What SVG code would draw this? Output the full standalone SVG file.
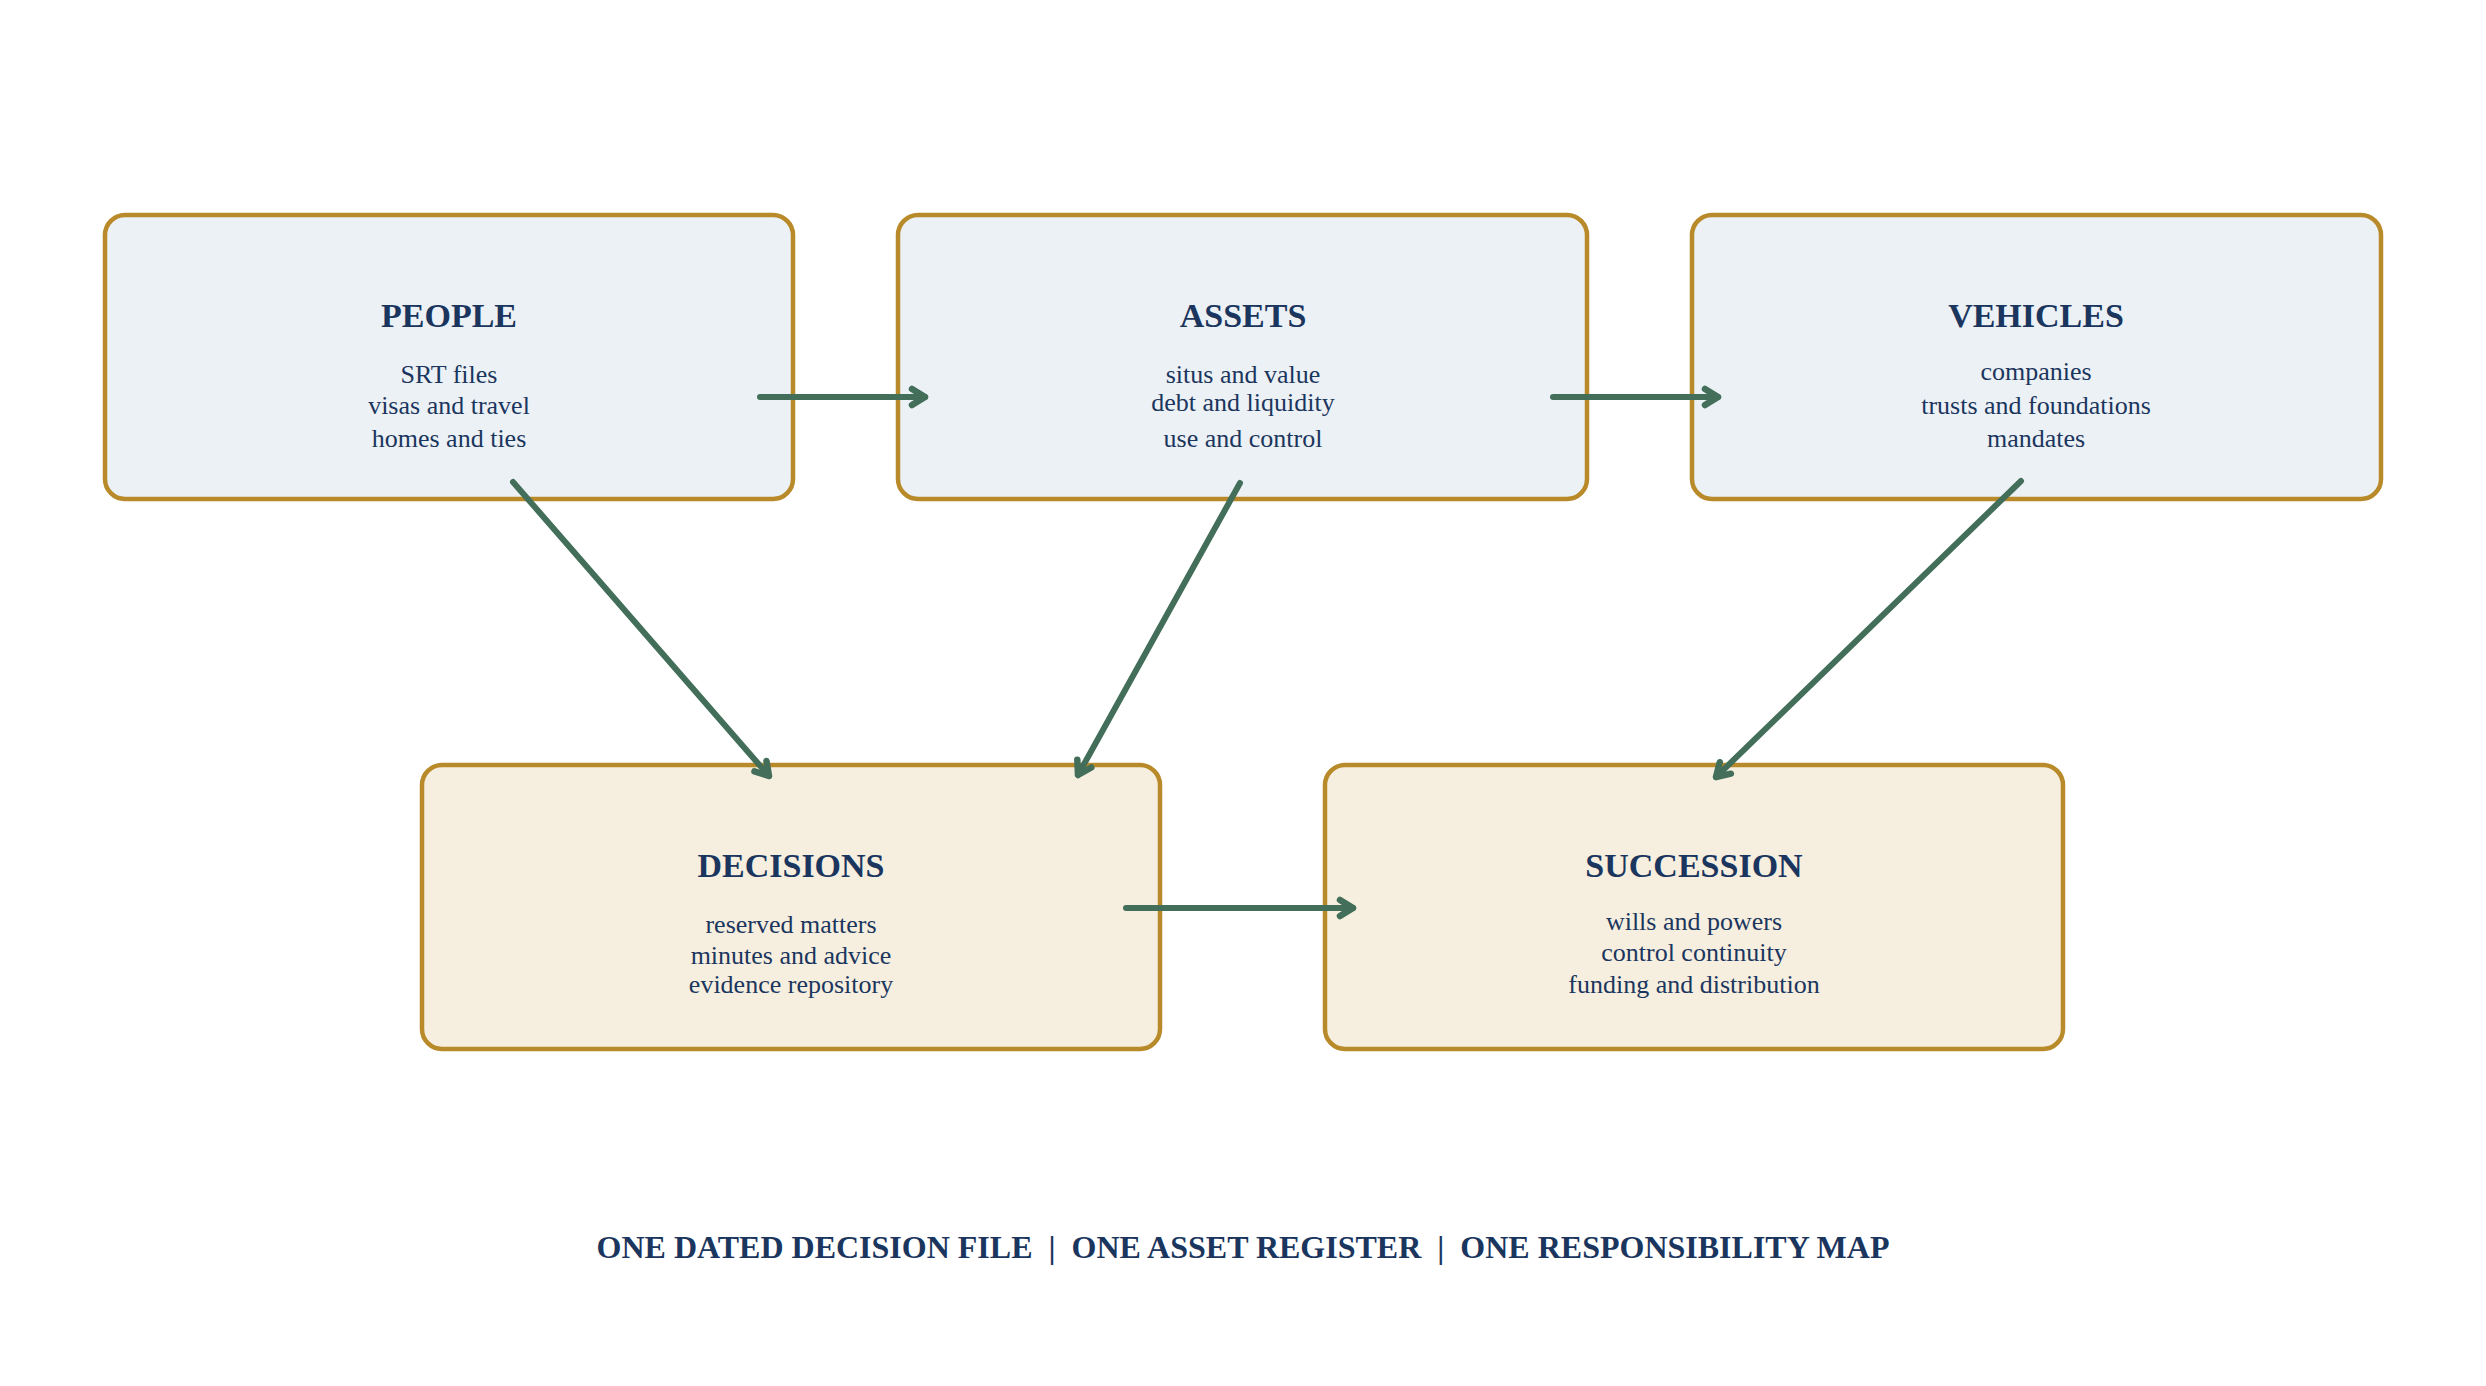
<svg xmlns="http://www.w3.org/2000/svg" width="2486" height="1386" viewBox="0 0 2486 1386">
<defs>
<style>
.box{stroke:#B98A2A;stroke-width:4.5;}
.top{fill:#ECF1F5;}
.bot{fill:#F6EFDF;}
.title{font-family:"Liberation Serif","Times New Roman",serif;font-weight:bold;font-size:34px;fill:#1B365E;text-anchor:middle;}
.body{font-family:"Liberation Serif","Times New Roman",serif;font-size:26px;fill:#1B365E;text-anchor:middle;}
.foot{font-family:"Liberation Serif","Times New Roman",serif;font-weight:bold;font-size:32px;fill:#1B365E;text-anchor:middle;white-space:pre;}
.conn{stroke:#436E5A;stroke-width:6;stroke-linecap:round;fill:none;}
</style>
<marker id="arr" markerUnits="userSpaceOnUse" markerWidth="40" markerHeight="40" viewBox="-20 -20 40 40" refX="0" refY="0" orient="auto">
<path d="M-13,-8 L0,0 L-13,8" fill="none" stroke="#436E5A" stroke-width="6.5" stroke-linecap="round" stroke-linejoin="round"/>
</marker>
</defs>
<rect width="2486" height="1386" fill="#FFFFFF"/>
<g id="people">
<rect class="box top" x="105" y="215" width="688" height="284" rx="20"/>
<text class="title" x="449" y="327">PEOPLE</text>
<text class="body" x="449" y="383">SRT files</text>
<text class="body" x="449" y="414">visas and travel</text>
<text class="body" x="449" y="447">homes and ties</text>
</g>
<g id="assets">
<rect class="box top" x="898" y="215" width="689" height="284" rx="20"/>
<text class="title" x="1243" y="327">ASSETS</text>
<text class="body" x="1243" y="383">situs and value</text>
<text class="body" x="1243" y="411">debt and liquidity</text>
<text class="body" x="1243" y="447">use and control</text>
</g>
<g id="vehicles">
<rect class="box top" x="1692" y="215" width="689" height="284" rx="20"/>
<text class="title" x="2036" y="327">VEHICLES</text>
<text class="body" x="2036" y="380">companies</text>
<text class="body" x="2036" y="414">trusts and foundations</text>
<text class="body" x="2036" y="447">mandates</text>
</g>
<g id="decisions">
<rect class="box bot" x="422" y="765" width="738" height="284" rx="20"/>
<text class="title" x="791" y="877">DECISIONS</text>
<text class="body" x="791" y="933">reserved matters</text>
<text class="body" x="791" y="964">minutes and advice</text>
<text class="body" x="791" y="993">evidence repository</text>
</g>
<g id="succession">
<rect class="box bot" x="1325" y="765" width="738" height="284" rx="20"/>
<text class="title" x="1694" y="877">SUCCESSION</text>
<text class="body" x="1694" y="930">wills and powers</text>
<text class="body" x="1694" y="961">control continuity</text>
<text class="body" x="1694" y="993">funding and distribution</text>
</g>
<g id="connectors">
<line class="conn" x1="760" y1="397" x2="925" y2="397" marker-end="url(#arr)"/>
<line class="conn" x1="1553" y1="397" x2="1718" y2="397" marker-end="url(#arr)"/>
<line class="conn" x1="513" y1="482" x2="769" y2="776" marker-end="url(#arr)"/>
<line class="conn" x1="1240" y1="483" x2="1078" y2="775" marker-end="url(#arr)"/>
<line class="conn" x1="2021" y1="481" x2="1716" y2="777" marker-end="url(#arr)"/>
<line class="conn" x1="1126" y1="908" x2="1353" y2="908" marker-end="url(#arr)"/>
</g>
<g id="footer">
<text class="foot" x="1243" y="1258">ONE DATED DECISION FILE  |  ONE ASSET REGISTER  |  ONE RESPONSIBILITY MAP</text>
</g>
</svg>
